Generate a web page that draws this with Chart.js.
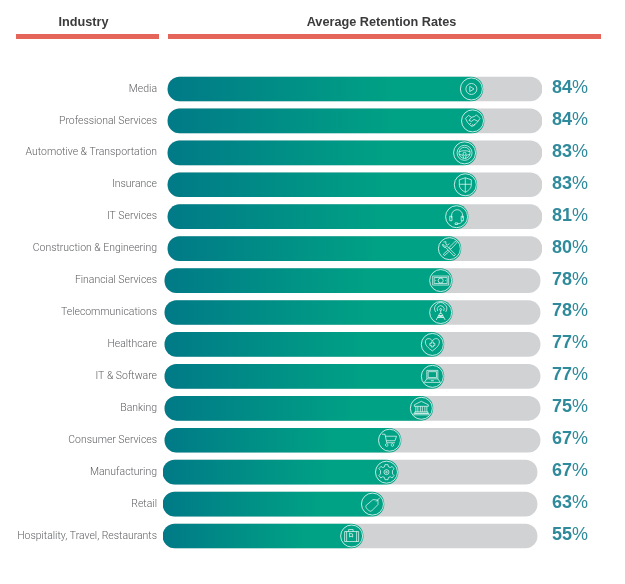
<!DOCTYPE html>
<html>
<head>
<meta charset="utf-8">
<script src="https://cdn.jsdelivr.net/npm/chart.js@4"></script>
<style>
    body { margin: 0; background: #fff; }
    #wrap { position: relative; width: 625px; height: 584px; overflow: hidden; }
    .head { position: absolute; top: 15px; font: bold 12.7px "Liberation Sans", sans-serif; color: #3b3b3d; text-align: center; }
    .rule { position: absolute; top: 34px; height: 4.5px; background: #e5655b; }
</style>
</head>
<body>
<div id="wrap">
    <div class="head" style="left:12px;width:143px">Industry</div>
    <div class="head" style="left:167px;width:429px">Average Retention Rates</div>
    <div class="rule" style="left:15.5px;width:143px"></div>
    <div class="rule" style="left:168px;width:433px"></div>
    <canvas id="chart" width="625" height="584"></canvas>
</div>
<script>
const industries = ['Media', 'Professional Services', 'Automotive & Transportation', 'Insurance', 'IT Services',
    'Construction & Engineering', 'Financial Services', 'Telecommunications', 'Healthcare', 'IT & Software',
    'Banking', 'Consumer Services', 'Manufacturing', 'Retail', 'Hospitality, Travel, Restaurants'];

// printed percentages
const retention = [84, 84, 83, 83, 81, 80, 78, 78, 77, 77, 75, 67, 67, 63, 55];

// bars as drawn in the source, which sit slightly skewed and do not follow the printed numbers exactly
const barFrom = [1.3, 1.3, 1.3, 1.3, 1.3, 1.3, 0.5, 0.5, 0.5, 0.5, 0.5, 0.5, 0, 0, 0];
const barFill = [84.4, 84.7, 82.6, 82.8, 80.5, 78.6, 76.3, 76.3, 74.1, 74.1, 71.2, 62.8, 62, 58.3, 52.8];
const barTrack = [100, 100, 100, 100, 100, 100, 99.5, 99.5, 99.5, 99.5, 99.5, 99.5, 98.7, 98.7, 98.7];

const iconNames = ['play', 'handshake', 'wheel', 'shield', 'headset', 'tools', 'cash', 'tower', 'heart', 'laptop',
    'bank', 'cart', 'gear', 'tag', 'case'];

// icon outlines, in a box of about +-8 around the circle centre
const iconPaths = {
    play: 'M5.5 0A5.5 5.5 0 1 1 -5.5 0A5.5 5.5 0 1 1 5.5 0ZM-1.6 -2.6L2.6 0L-1.6 2.6Z',
    handshake: 'M-7 -2.5L-4 -5.5L-1 -3.5L2 -4.5L4 -6L7.5 -2.5L5.5 0.5L1 5L-1 5.5L-5 1.5ZM-1 -3.5L-3.5 -0.5L-1 0.5L1.5 -1.5L5.5 0.5M-3 3.5L-1.5 2M-1 5L0.5 3.2M1 5L2.5 3',
    wheel: 'M7.5 0A7.5 7.5 0 1 1 -7.5 0A7.5 7.5 0 1 1 7.5 0ZM5.6 0A5.6 5.6 0 1 1 -5.6 0A5.6 5.6 0 1 1 5.6 0ZM-5.5 -1C-2.5 -2.5 2.5 -2.5 5.5 -1M-5.3 1.5L-1.5 2.5L-1 5.5M5.3 1.5L1.5 2.5L1 5.5M1.5 1A1.5 1.5 0 1 1 -1.5 1A1.5 1.5 0 1 1 1.5 1Z',
    shield: 'M0 -7L6 -5V0C6 3.5 3 6 0 7.5C-3 6 -6 3.5 -6 0V-5ZM0 -7V7.5M-6 -0.5H6',
    headset: 'M-5 1.5V-1.5A5.5 5.5 0 0 1 6 -1.5V1.5M-6.8 -0.5H-4.6V4H-6.8ZM4.6 -0.5H6.8V4H4.6ZM5.5 4C5.5 6 3.5 7 1 7M1 6.2H-1.5V7.8H1Z',
    tools: 'M-6 -6.5L-3.5 -7V-4.5L-2 -3.5L0 -5M-6.5 -4.5L-5 -2.5L-2.5 -2.5L6 6L4.5 7.5L-3.5 -1L-5.5 -1.5L-7 -3.5ZM6 -7.5L7.5 -6L1.5 0.5L-0.5 -1ZM-1.5 1.5L-6 5.5L-5 7L-0.5 3',
    cash: 'M-8 -4.5H8V4.5H-8ZM-6.5 -3H6.5V3H-6.5ZM2.5 0A2.5 2.5 0 1 1 -2.5 0A2.5 2.5 0 1 1 2.5 0ZM-5 -0.4V0.4M5 -0.4V0.4',
    tower: 'M0 -2V1M-4.5 7.5L-1 1H1L4.5 7.5M-3 5L3 5M-2 3L2 3M-2 3L3 5M2 3L-3 5M-5 -0.5A6 6 0 1 1 5 -0.5M-3 -1.5A3.5 3.5 0 1 1 3 -1.5M1 -3A1 1 0 1 1 -1 -3A1 1 0 1 1 1 -3Z',
    heart: 'M0 6.5C-4 3.5 -7 1 -7 -2.5C-7 -6.5 -2 -7 0 -3.5C2 -7 7 -6.5 7 -2.5C7 1 4 3.5 0 6.5ZM-1 -2.5H1V-1H2.5V1H1V2.5H-1V1H-2.5V-1H-1Z',
    laptop: 'M-5.5 -6H5.5V2.5H-5.5ZM-4.2 -4.7H4.2V1.2H-4.2ZM-5.5 2.5L-8 6H8L5.5 2.5M-1.5 4.3H1.5',
    bank: 'M0 -7L7 -3.5V-2H-7V-3.5ZM-5.5 -2V3.5M-3.5 -2V3.5M-1 -2V3.5M1 -2V3.5M3.5 -2V3.5M5.5 -2V3.5M-6.5 3.5H6.5V5H-6.5ZM-7.5 5H7.5V6.5H-7.5Z',
    cart: 'M-7.5 -6H-4.5L-2.8 2.5H5.5M-4.2 -4H7L5.5 0.5H-3.2M-1.5 4.8A1.3 1.3 0 1 1 -1.5 4.75ZM4.2 4.8A1.3 1.3 0 1 1 4.2 4.75Z',
    gear: 'M-1.5 -7.5H1.5L2 -5.3L3.8 -4.6L5.6 -5.8L7.6 -3.4L6 -1.8V1.8L7.6 3.4L5.6 5.8L3.8 4.6L2 5.3L1.5 7.5H-1.5L-2 5.3L-3.8 4.6L-5.6 5.8L-7.6 3.4L-6 1.8V-1.8L-7.6 -3.4L-5.6 -5.8L-3.8 -4.6L-2 -5.3ZM2.5 0A2.5 2.5 0 1 1 -2.5 0A2.5 2.5 0 1 1 2.5 0ZM0.8 0A0.8 0.8 0 1 1 -0.8 0A0.8 0.8 0 1 1 0.8 0Z',
    tag: 'M-6.5 1.5L0.5 -4.5L5.5 -4L5.5 0.5L-1 7C-3 8 -7.5 3.5 -6.5 1.5ZM3.6 -2.5L7.5 -6.5',
    case: 'M-7 -4.5H7V5.5H-7ZM-5 -4.5V5.5M5 -4.5V5.5M-3 -4.5V-6.5H1.5V-4.5M-2 -3L1 -2V1L-0.5 0.2L-2 1Z'
};

const teal = '#007a87';
const green = '#00a285';

// round cap of each fill gets a thin ring and an icon
const iconPlugin = {
    id: 'barIcons',
    afterDatasetsDraw(chart) {
        const ctx = chart.ctx;
        const x = chart.scales.x;
        const y = chart.scales.y;

        ctx.save();
        ctx.strokeStyle = 'rgba(255, 255, 255, 0.85)';
        barFill.forEach((end, i) => {
            const cx = x.getPixelForValue(end) - 11.5;
            const cy = y.getPixelForValue(i);

            ctx.lineWidth = 0.9;
            ctx.beginPath();
            ctx.arc(cx, cy, 11, 0, Math.PI * 2);
            ctx.stroke();

            ctx.save();
            ctx.translate(cx, cy);
            ctx.lineWidth = 0.8;
            ctx.stroke(new Path2D(iconPaths[iconNames[i]]));
            ctx.restore();
        });
        ctx.restore();
    }
};

// printed percentages right of the bars, number bold and sign regular
const percentPlugin = {
    id: 'percentLabels',
    afterDraw(chart) {
        const ctx = chart.ctx;
        const y = chart.scales.y;

        ctx.save();
        ctx.fillStyle = '#2f8a9b';
        ctx.textBaseline = 'middle';
        ctx.textAlign = 'left';
        retention.forEach((value, i) => {
            const py = y.getPixelForValue(i) - 1;
            ctx.font = 'bold 18px "Liberation Sans", sans-serif';
            ctx.fillText(String(value), 552, py);
            const w = ctx.measureText(String(value)).width;
            ctx.font = '18px "Liberation Sans", sans-serif';
            ctx.fillText('%', 552 + w, py);
        });
        ctx.restore();
    }
};

new Chart(document.getElementById('chart'), {
    type: 'bar',
    data: {
        labels: industries,
        datasets: [
            {
                label: 'Retention',
                data: barFill.map((end, i) => [barFrom[i], end]),
                order: 1,
                backgroundColor: (c) => {
                    const area = c.chart.chartArea;
                    if (!area || c.dataIndex === undefined) return teal;
                    const x = c.chart.scales.x;
                    const i = c.dataIndex;
                    const g = c.chart.ctx.createLinearGradient(x.getPixelForValue(barFrom[i]), 0, x.getPixelForValue(barFill[i]), 0);
                    g.addColorStop(0, teal);
                    g.addColorStop(0.72, green);
                    g.addColorStop(1, green);
                    return g;
                }
            },
            {
                label: 'Track',
                data: barTrack.map((end, i) => [barFrom[i], end]),
                order: 2,
                backgroundColor: '#d1d2d4'
            }
        ]
    },
    options: {
        indexAxis: 'y',
        responsive: false,
        animation: false,
        layout: { padding: { top: 73, bottom: 32, right: 83 } },
        datasets: {
            bar: {
                grouped: false,
                barThickness: 24,
                borderRadius: 12,
                borderSkipped: false
            }
        },
        plugins: {
            legend: { display: false },
            tooltip: { enabled: false }
        },
        scales: {
            x: { display: false, min: 0, max: 100 },
            y: {
                afterFit: (scale) => { scale.width = 163; },
                grid: { display: false, drawTicks: false },
                border: { display: false },
                ticks: {
                    padding: 6,
                    color: '#5f6063',
                    font: { family: 'Roboto, sans-serif', size: 10.45, weight: '300' }
                }
            }
        }
    },
    plugins: [iconPlugin, percentPlugin]
});
</script>
</body>
</html>
